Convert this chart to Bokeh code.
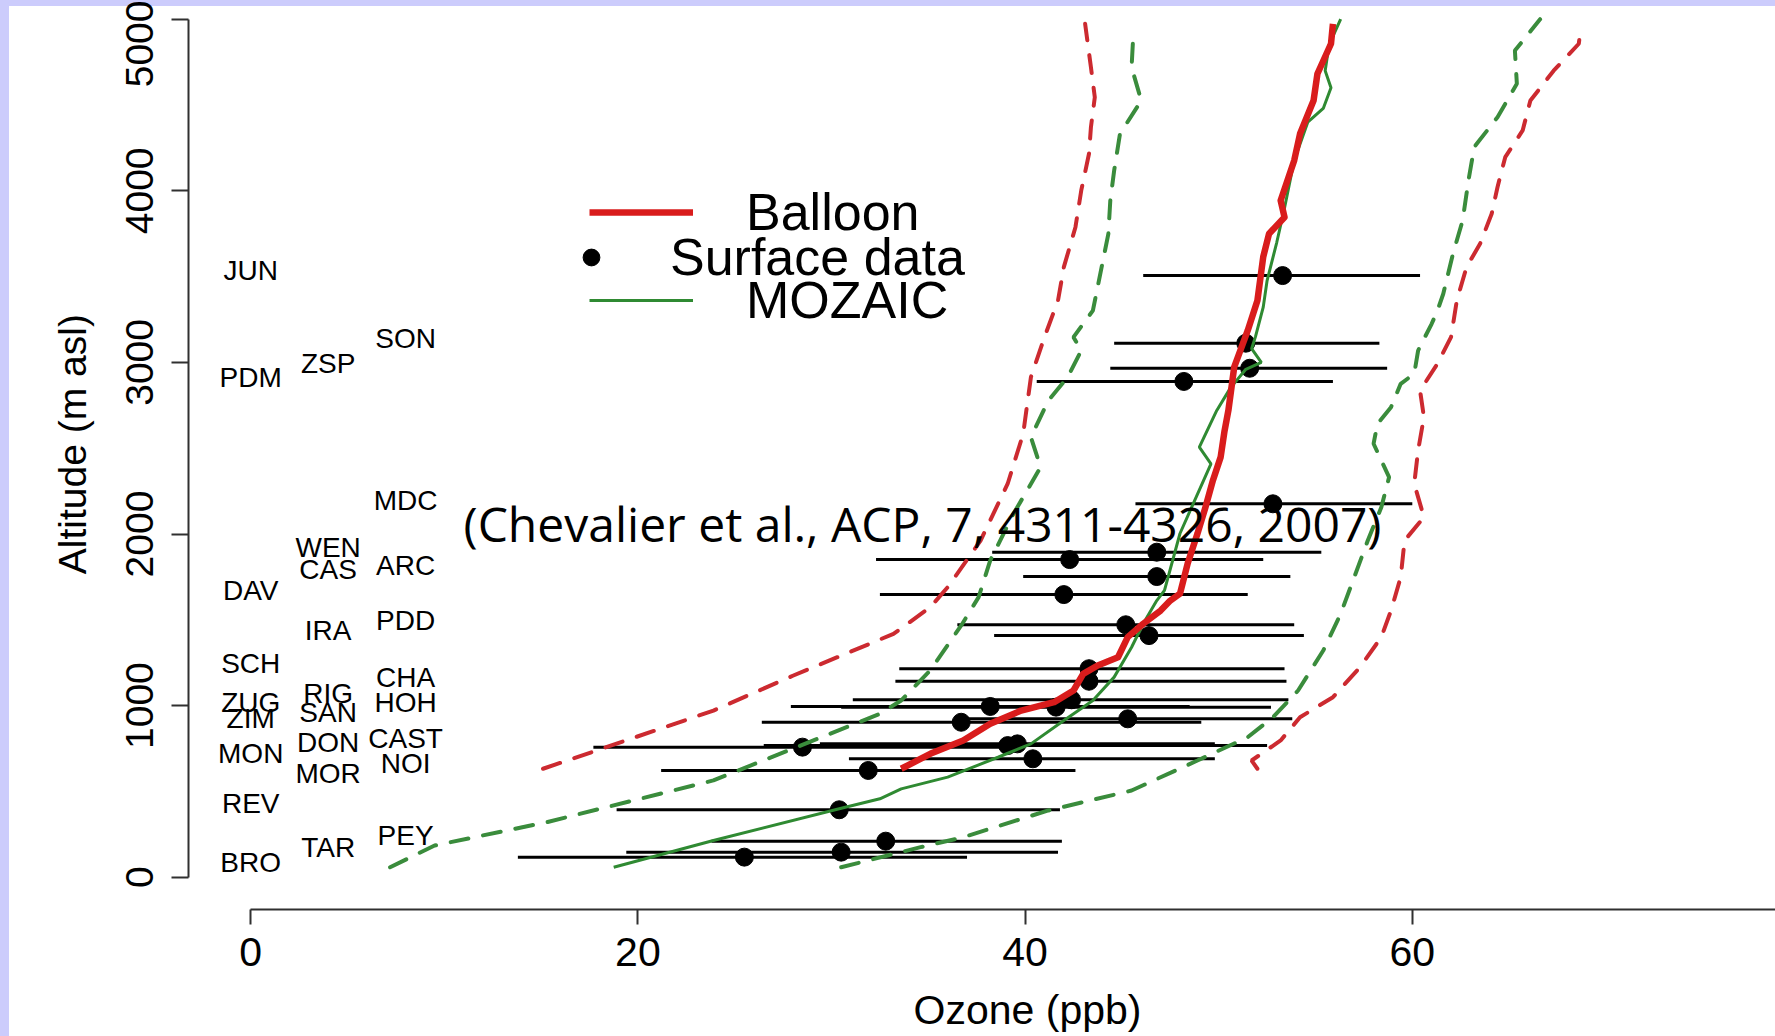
from bokeh.plotting import figure
from bokeh.models import Range1d, FixedTicker, Legend, LegendItem, Label
from bokeh.core.properties import value
from bokeh.embed import file_html
from bokeh.resources import INLINE

# ---------------- data ----------------
x_ticks = [0, 20, 40, 60, 80]
y_ticks = [0, 1000, 2000, 3000, 4000, 5000]
x_title = "Ozone (ppb)"
y_title = "Altitude (m asl)"

# surface stations (ozone ppb, altitude m, bar low, bar high)
surf_oz = [53.3, 51.4, 51.6, 48.2, 52.8, 46.8, 42.3, 46.8, 42.0, 45.2, 46.4, 43.3, 43.3, 42.4,
           38.2, 41.6, 36.7, 45.3, 28.5, 39.1, 39.6, 40.4, 31.9, 30.4, 32.8, 30.5, 25.5]
surf_alt = [3506, 3112, 2966, 2889, 2176, 1894, 1851, 1752, 1647, 1471, 1408, 1215, 1142, 1034,
            995, 991, 903, 923, 758, 767, 777, 690, 622, 393, 210, 146, 117]
surf_lo = [46.1, 44.6, 44.4, 40.6, 45.7, 38.3, 32.3, 39.9, 32.5, 36.5, 38.4, 33.5, 33.3, 31.1,
           27.9, 30.5, 26.4, 36.8, 17.7, 26.5, 29.4, 30.9, 21.2, 18.9, 23.8, 19.4, 13.8]
surf_hi = [60.4, 58.3, 58.7, 55.9, 60.0, 55.3, 52.3, 53.7, 51.5, 53.9, 54.4, 53.4, 53.5, 53.6,
           48.5, 52.7, 49.1, 53.8, 39.3, 52.5, 49.8, 49.8, 42.6, 41.8, 41.9, 41.7, 37.0]

# station name labels
station_names = ["JUN", "SON", "ZSP", "PDM", "MDC", "WEN", "CAS", "ARC", "DAV", "IRA", "PDD",
                 "SCH", "CHA", "ZUG", "RIG", "HOH", "ZIM", "SAN", "MON", "DON", "CAST", "MOR",
                 "NOI", "REV", "TAR", "PEY", "BRO"]
label_alt = [3536, 3137, 2992, 2914, 2195, 1923, 1793, 1816, 1671, 1438, 1496, 1243, 1166, 1020,
             1070, 1020, 923, 962, 719, 787, 806, 602, 661, 428, 175, 243, 87]
label_col = [0, 2, 1, 0, 2, 1, 1, 2, 0, 1, 2, 0, 2, 0, 1, 2, 0, 1, 0, 1, 2, 1, 2, 0, 1, 2, 0]

# balloon mean profile
balloon_oz = [33.6, 35.1, 36.8, 38.2, 39.8, 41.5, 42.5, 43.0, 43.75, 44.8, 45.3, 46.1, 47.0, 47.5,
              48.0, 48.4, 48.9, 49.3, 49.7, 50.1, 50.3, 50.5, 50.8, 51.5, 52.0, 52.3, 52.6, 53.4,
              53.2, 53.9, 54.2, 54.9, 55.1, 55.8, 55.9]
balloon_alt = [632, 719, 797, 894, 971, 1020, 1088, 1185, 1234, 1282, 1399, 1477, 1554, 1612,
               1652, 1830, 2001, 2150, 2312, 2448, 2600, 2720, 2972, 3186, 3361, 3615, 3750, 3846,
               3943, 4177, 4332, 4526, 4682, 4857, 4973]

# MOZAIC mean profile
mozaic_oz = [18.75, 23.9, 30.4, 32.5, 33.6, 36.0, 38.6, 40.3, 42.0, 43.5, 44.6, 45.5, 46.1, 46.8,
             47.2, 48.0, 49.6, 49.0, 49.9, 50.6, 51.4, 52.2, 51.7, 51.9, 52.3, 52.5, 53.0, 53.4,
             53.9, 54.6, 55.4, 55.8, 55.5, 55.7, 56.3]
mozaic_alt = [58, 214, 399, 457, 515, 583, 699, 777, 913, 1030, 1166, 1340, 1477, 1612,
              1671, 2003, 2409, 2506, 2720, 2850, 2960, 3000, 3080, 3150, 3322, 3477, 3700, 3900,
              4177, 4400, 4480, 4600, 4700, 4850, 5000]

# balloon spread (dashed red)
balloon_lo_oz = [15.1, 23.9, 28.0, 33.2, 35.1, 36.0, 37.7, 39.1, 39.9, 40.3, 41.0, 41.7, 42.0,
                 42.6, 42.9, 43.3, 43.4, 43.6, 43.4, 43.1]
balloon_lo_alt = [632, 971, 1174, 1418, 1573, 1690, 1962, 2293, 2584, 2914, 3147, 3361, 3555,
                  3788, 4002, 4216, 4371, 4545, 4720, 4973]
balloon_hi_oz = [52.0, 51.7, 53.2, 54.2, 55.9, 57.3, 58.4, 58.9, 59.4, 59.6, 60.6, 60.1, 60.3,
                 60.6, 60.4, 61.3, 62.0, 62.3, 62.8, 63.5, 64.1, 64.4, 64.8, 65.7, 66.1, 67.3,
                 68.6, 68.7]
balloon_hi_alt = [632, 680, 797, 932, 1049, 1224, 1399, 1554, 1748, 1962, 2098, 2293, 2487,
                  2681, 2836, 2992, 3147, 3361, 3555, 3691, 3866, 4021, 4196, 4352, 4526, 4700,
                  4857, 4950]

# MOZAIC spread (dashed green)
mozaic_lo_oz = [7.2, 9.5, 15.3, 23.9, 32.5, 33.6, 35.1, 36.7, 37.6, 38.2, 39.4, 40.8, 40.3, 41.2,
                42.2, 42.9, 42.5, 43.5, 44.3, 44.4, 44.6, 44.9, 46.0, 45.5, 45.6]
mozaic_lo_alt = [58, 185, 321, 564, 952, 1030, 1205, 1467, 1632, 1846, 2118, 2389, 2564, 2778,
                 2914, 3069, 3147, 3302, 3749, 3943, 4118, 4332, 4526, 4720, 4934]
mozaic_hi_oz = [30.5, 34.6, 36.8, 41.2, 45.5, 48.9, 51.5, 52.8, 54.1, 55.4, 56.3, 57.0, 57.7,
                58.4, 58.8, 58.0, 58.2, 58.9, 59.4, 60.1, 60.3, 61.0, 61.3, 61.6, 62.1, 62.6,
                62.9, 63.2, 64.4, 65.4, 65.3, 66.6]
mozaic_hi_alt = [58, 175, 233, 389, 505, 680, 816, 932, 1088, 1321, 1535, 1748, 1962, 2156,
                 2331, 2526, 2642, 2739, 2875, 2934, 3069, 3225, 3302, 3400, 3633, 3827, 4060,
                 4255, 4429, 4624, 4817, 5000]

citation = "(Chevalier et al., ACP, 7, 4311-4326, 2007)"

# ---------------- figure ----------------
RED = "#d91c1c"
RED_D = "#cc2a30"
GREEN = "#2f8a32"
GREEN_D = "#3a8c3c"
FONT = "Liberation Sans"
NBSP = "\u00a0"

p = figure(width=1775, height=1036, output_backend="svg", toolbar_location=None,
           x_range=Range1d(-3.213, 78.76), y_range=Range1d(-188.2, 5109),
           min_border_left=188, min_border_right=0, min_border_top=0, min_border_bottom=127)
p.outline_line_color = None
p.grid.visible = False
p.background_fill_color = None
p.border_fill_color = None
p.styles = {"background-color": "white", "box-shadow": "inset 9px 6px 0px 0px #ccccfc"}

xa = p.xaxis[0]
xa.ticker = FixedTicker(ticks=x_ticks)
xa.bounds = (0, 80)
# leading no-break spaces move the centred title over the 0-80 span, as in the original
xa.axis_label = NBSP * 8 + x_title
ya = p.yaxis[0]
ya.ticker = FixedTicker(ticks=y_ticks)
ya.bounds = (0, 5000)
ya.axis_label = NBSP * 2 + y_title
ya.major_label_orientation = "vertical"
for ax in (xa, ya):
    ax.minor_tick_in = 0
    ax.minor_tick_out = 0
    ax.major_tick_in = 0
    ax.axis_line_width = 2
    ax.axis_line_color = "#303030"
    ax.major_tick_line_width = 2
    ax.major_tick_line_color = "#303030"
    ax.major_label_text_font = FONT
    ax.major_label_text_color = "black"
    ax.axis_label_text_font = FONT
    ax.axis_label_text_font_style = "normal"
    ax.axis_label_text_color = "black"
xa.major_label_text_font_size = "41px"
xa.axis_label_text_font_size = "41px"
xa.major_tick_out = 15
xa.major_label_standoff = 13
xa.axis_label_standoff = 18
ya.major_label_text_font_size = "39px"
ya.axis_label_text_font_size = "39px"
ya.major_tick_out = 17
ya.major_label_standoff = 18
ya.axis_label_standoff = 30

# error bars and points
p.segment(x0=surf_lo, y0=surf_alt, x1=surf_hi, y1=surf_alt, line_color="black", line_width=3)
r_dots = p.scatter(x=surf_oz, y=surf_alt, size=18, marker="circle", fill_color="black",
                   line_color="black")

# spread lines
for xs, ys, c in ((balloon_lo_oz, balloon_lo_alt, RED_D), (balloon_hi_oz, balloon_hi_alt, RED_D),
                  (mozaic_lo_oz, mozaic_lo_alt, GREEN_D), (mozaic_hi_oz, mozaic_hi_alt, GREEN_D)):
    p.line(x=xs, y=ys, line_color=c, line_width=4, line_dash="18 15", line_cap="round")

r_moz = p.line(x=mozaic_oz, y=mozaic_alt, line_color=GREEN, line_width=3)
r_bal = p.line(x=balloon_oz, y=balloon_alt, line_color=RED, line_width=6.5, line_join="round")

# station labels
p.text(x=[c * 4 for c in label_col], y=label_alt, text=station_names,
       text_font=value(FONT), text_font_size="28px", text_align="center",
       text_baseline="middle", text_color="black")

# legend: one single-item legend per entry so each can sit where the original has it
legend_specs = [("Balloon", r_bal, (401, 647), 104, 20, 53),
                ("Surface data", r_dots, (382, 602), 42, 42, 58),
                ("MOZAIC", r_moz, (401, 559), 104, 20, 53)]
for lab, rend, loc, gw, gh, stand in legend_specs:
    p.add_layout(Legend(items=[LegendItem(label=lab, renderers=[rend])],
                        location=loc, padding=0, margin=0, spacing=0,
                        glyph_width=gw, glyph_height=gh, label_height=100,
                        label_standoff=stand, label_text_font=FONT,
                        label_text_font_size="52px", label_text_color="black",
                        border_line_alpha=0, background_fill_alpha=0))

p.add_layout(Label(x=34.7, y=2061, text=citation, text_font="Open Sans",
                   text_font_size="48px", text_align="center", text_baseline="middle",
                   text_color="black"))

open("out.html", "w").write(file_html(p, INLINE))
